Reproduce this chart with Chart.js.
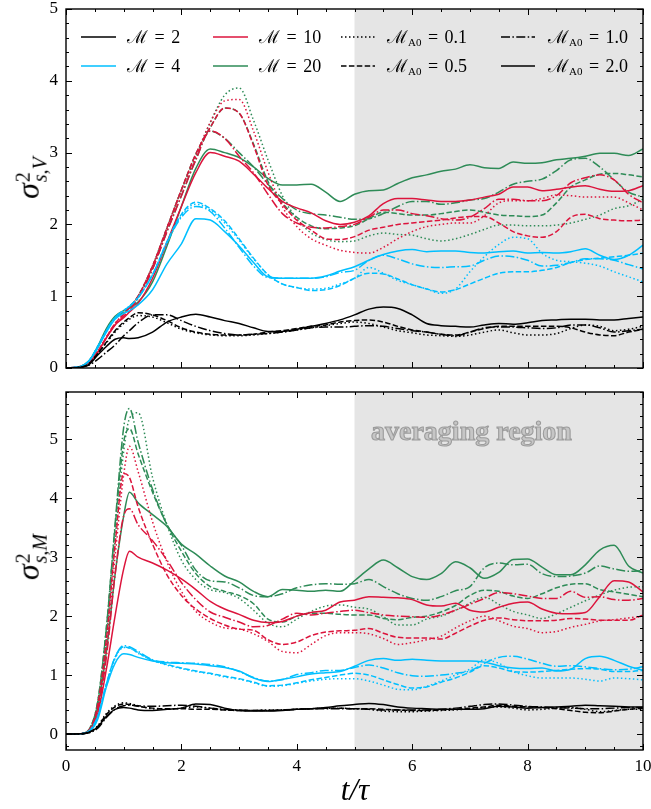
<!DOCTYPE html>
<html><head><meta charset="utf-8">
<script src="https://cdn.jsdelivr.net/npm/chart.js@4.4.1/dist/chart.umd.min.js"></script>
<style>
html,body{margin:0;padding:0;background:#fff;width:651px;height:809px;overflow:hidden;font-family:'Liberation Serif','DejaVu Serif',serif;}
.box{position:absolute;left:0;width:651px;}
#topBox{top:0;height:385px;}
#botBox{top:385px;height:424px;}
.ov{position:absolute;white-space:nowrap;color:#000;line-height:22px;font-size:18px;word-spacing:2px;}
.ov sub{font-size:11px;vertical-align:-3px;font-style:normal;}
.ytitle{position:absolute;white-space:nowrap;transform:translate(-50%,-50%) rotate(-90deg);font-size:32px;line-height:40px;}
.ytitle i{font-style:italic;}
.ss{display:inline-block;vertical-align:middle;line-height:17px;font-size:20px;margin-left:1px;}
.ss span{display:block;}
.xtitle{position:absolute;left:355px;top:790px;transform:translate(-50%,-50%);font-size:31px;font-style:italic;white-space:nowrap;}
.avg{position:absolute;left:371px;top:415px;font-size:28px;font-weight:bold;color:#c6c6c6;-webkit-text-stroke:1.1px #9c9c9c;white-space:nowrap;}
</style></head><body>
<div class="box" id="topBox"><canvas id="cTop"></canvas></div>
<div class="box" id="botBox"><canvas id="cBot"></canvas></div>

<svg style="position:absolute;left:0;top:0" width="651" height="90">
  <line x1="81" y1="37" x2="116" y2="37" stroke="#000" stroke-width="1.6"/>
  <line x1="81" y1="66" x2="116" y2="66" stroke="#00BFFF" stroke-width="1.6"/>
  <line x1="213" y1="37" x2="248" y2="37" stroke="#DC143C" stroke-width="1.6"/>
  <line x1="213" y1="66" x2="248" y2="66" stroke="#2E8B57" stroke-width="1.6"/>
  <line x1="341" y1="37" x2="375" y2="37" stroke="#000" stroke-width="1.6" stroke-dasharray="1.5 2.5"/>
  <line x1="341" y1="66" x2="375" y2="66" stroke="#000" stroke-width="1.6" stroke-dasharray="5.5 2.4"/>
  <line x1="501" y1="37" x2="535" y2="37" stroke="#000" stroke-width="1.6" stroke-dasharray="9 2.4 1.5 2.4"/>
  <line x1="501" y1="66" x2="535" y2="66" stroke="#000" stroke-width="1.6"/>
</svg>
<div class="ov" style="left:127px;top:26px">ℳ = 2</div>
<div class="ov" style="left:127px;top:55px">ℳ = 4</div>
<div class="ov" style="left:259px;top:26px">ℳ = 10</div>
<div class="ov" style="left:259px;top:55px">ℳ = 20</div>
<div class="ov" style="left:387px;top:26px">ℳ<sub>A0</sub> = 0.1</div>
<div class="ov" style="left:387px;top:55px">ℳ<sub>A0</sub> = 0.5</div>
<div class="ov" style="left:548px;top:26px">ℳ<sub>A0</sub> = 1.0</div>
<div class="ov" style="left:548px;top:55px">ℳ<sub>A0</sub> = 2.0</div>

<div class="ytitle" style="left:28px;top:178px"><i>σ</i><span class="ss"><span>2</span><span><i>s</i>,<i>V</i></span></span></div>
<div class="ytitle" style="left:28px;top:557px"><i>σ</i><span class="ss"><span>2</span><span><i>s</i>,<i>M</i></span></span></div>
<div class="xtitle">t/τ</div>
<div class="avg">averaging region</div>

<script>
// ---- data ----
const tGrid = [0,0.25,0.4,0.55,0.7,0.85,1.0,1.1,1.25,1.5,1.75,2.0,2.25,2.5,2.75,3.0,3.25,3.5,3.75,4.0,4.25,4.5,4.75,5.0,5.25,5.5,5.75,6.0,6.25,6.5,6.75,7.0,7.25,7.5,7.75,8.0,8.25,8.5,8.75,9.0,9.25,9.5,9.75,10];
const xTicks = [0,2,4,6,8,10];
const yTicksV = [0,1,2,3,4,5];
const yTicksM = [0,1,2,3,4,5];
const shadeRange = [5,10];

// top panel: sigma^2_{s,V}
const V_M2_A01 = [0,0.01,0.06,0.2,0.35,0.5,0.62,0.68,0.73,0.71,0.63,0.54,0.49,0.46,0.45,0.45,0.46,0.48,0.5,0.53,0.56,0.59,0.62,0.64,0.62,0.57,0.52,0.49,0.46,0.45,0.44,0.46,0.5,0.53,0.49,0.46,0.46,0.48,0.55,0.6,0.58,0.52,0.54,0.58];
const V_M2_A05 = [0,0.01,0.06,0.2,0.36,0.52,0.64,0.7,0.77,0.74,0.66,0.56,0.5,0.47,0.46,0.46,0.47,0.5,0.52,0.55,0.58,0.6,0.64,0.66,0.67,0.64,0.58,0.53,0.5,0.47,0.46,0.5,0.55,0.58,0.58,0.58,0.58,0.58,0.56,0.5,0.46,0.45,0.5,0.54];
const V_M2_A1  = [0,0.01,0.04,0.12,0.22,0.32,0.45,0.52,0.63,0.74,0.74,0.66,0.58,0.52,0.48,0.46,0.47,0.48,0.5,0.53,0.56,0.57,0.57,0.58,0.59,0.58,0.55,0.52,0.5,0.47,0.45,0.5,0.56,0.57,0.57,0.56,0.55,0.56,0.6,0.6,0.56,0.5,0.52,0.54];
const V_M2_A2  = [0,0.01,0.05,0.18,0.3,0.4,0.42,0.41,0.42,0.5,0.64,0.71,0.75,0.71,0.66,0.62,0.56,0.51,0.51,0.54,0.58,0.62,0.67,0.74,0.82,0.85,0.83,0.74,0.62,0.59,0.58,0.57,0.6,0.62,0.61,0.63,0.66,0.67,0.68,0.68,0.67,0.67,0.69,0.71];
const V_M4_A01 = [0,0.02,0.1,0.3,0.52,0.7,0.8,0.86,0.98,1.3,1.74,2.12,2.28,2.2,2.02,1.78,1.52,1.3,1.17,1.12,1.1,1.11,1.17,1.25,1.4,1.32,1.22,1.16,1.1,1.04,1.1,1.34,1.55,1.72,1.82,1.8,1.6,1.5,1.48,1.46,1.42,1.34,1.27,1.2];
const V_M4_A05 = [0,0.02,0.1,0.3,0.52,0.7,0.8,0.86,0.98,1.3,1.76,2.14,2.31,2.22,2.05,1.8,1.53,1.3,1.17,1.12,1.08,1.09,1.15,1.25,1.32,1.31,1.24,1.16,1.1,1.06,1.09,1.17,1.25,1.32,1.34,1.34,1.36,1.4,1.47,1.51,1.53,1.55,1.57,1.6];
const V_M4_A1  = [0,0.02,0.1,0.3,0.52,0.7,0.8,0.86,0.98,1.3,1.75,2.1,2.25,2.18,1.95,1.68,1.42,1.26,1.25,1.25,1.25,1.27,1.33,1.36,1.5,1.57,1.52,1.45,1.41,1.4,1.41,1.42,1.5,1.56,1.55,1.5,1.42,1.43,1.47,1.52,1.52,1.5,1.44,1.38];
const V_M4_A2  = [0,0.02,0.1,0.28,0.5,0.68,0.76,0.8,0.88,1.09,1.45,1.73,2.08,2.06,1.9,1.7,1.47,1.27,1.25,1.25,1.25,1.28,1.35,1.41,1.5,1.58,1.63,1.65,1.62,1.63,1.63,1.61,1.6,1.62,1.63,1.6,1.61,1.6,1.62,1.66,1.57,1.51,1.57,1.71];
const V_M10_A01 = [0,0.02,0.08,0.23,0.43,0.62,0.75,0.84,1.0,1.42,1.95,2.48,2.95,3.42,3.72,3.74,3.3,2.73,2.25,1.97,1.8,1.71,1.64,1.61,1.6,1.68,1.8,1.9,1.97,2.0,2.02,2.02,2.12,2.3,2.33,2.33,2.36,2.41,2.4,2.38,2.38,2.38,2.3,2.2];
const V_M10_A05 = [0,0.02,0.08,0.23,0.43,0.62,0.75,0.84,1.0,1.42,1.95,2.48,2.98,3.35,3.62,3.55,3.1,2.55,2.28,2.06,1.92,1.8,1.79,1.83,1.92,1.96,2.0,2.02,2.04,2.06,2.09,2.11,2.11,2.02,1.9,1.84,1.82,1.9,2.1,2.14,2.08,2.06,2.05,2.06];
const V_M10_A1  = [0,0.02,0.08,0.22,0.42,0.6,0.72,0.8,0.97,1.38,1.9,2.4,2.9,3.3,3.2,2.95,2.72,2.42,2.15,2.02,1.96,1.95,1.97,2.0,2.1,2.2,2.2,2.15,2.12,2.08,2.06,2.1,2.22,2.35,2.35,2.33,2.33,2.4,2.58,2.65,2.69,2.62,2.42,2.3];
const V_M10_A2  = [0,0.02,0.08,0.22,0.42,0.6,0.7,0.78,0.9,1.25,1.75,2.25,2.72,3.0,2.95,2.88,2.7,2.5,2.32,2.23,2.16,2.05,2.0,2.03,2.12,2.29,2.36,2.36,2.34,2.32,2.32,2.34,2.38,2.42,2.52,2.52,2.47,2.49,2.52,2.54,2.49,2.46,2.47,2.54];
const V_M20_A01 = [0,0.02,0.1,0.29,0.53,0.7,0.78,0.85,1.0,1.42,1.95,2.48,2.95,3.42,3.8,3.9,3.45,2.9,2.4,2.08,1.88,1.79,1.76,1.77,1.84,1.88,1.86,1.85,1.8,1.77,1.8,1.86,1.93,1.99,1.99,1.98,1.98,1.99,2.02,2.07,2.13,2.22,2.26,2.35];
const V_M20_A05 = [0,0.02,0.1,0.29,0.53,0.7,0.78,0.85,1.0,1.42,1.95,2.48,2.98,3.35,3.62,3.55,3.12,2.6,2.3,2.1,1.98,1.94,1.95,1.98,2.08,2.17,2.15,2.13,2.13,2.15,2.18,2.2,2.17,2.13,2.12,2.11,2.13,2.3,2.52,2.62,2.7,2.71,2.69,2.66];
const V_M20_A1  = [0,0.02,0.1,0.28,0.52,0.7,0.78,0.84,0.98,1.38,1.9,2.4,2.9,3.3,3.2,3.0,2.8,2.56,2.36,2.2,2.15,2.13,2.1,2.07,2.08,2.15,2.25,2.32,2.32,2.28,2.3,2.34,2.36,2.45,2.56,2.6,2.63,2.75,2.9,2.92,2.8,2.62,2.45,2.38];
const V_M20_A2  = [0,0.02,0.1,0.3,0.55,0.72,0.8,0.84,0.92,1.2,1.7,2.25,2.78,3.05,3.0,2.93,2.8,2.64,2.55,2.55,2.56,2.45,2.32,2.42,2.47,2.48,2.57,2.65,2.69,2.74,2.77,2.83,2.79,2.78,2.87,2.85,2.86,2.9,2.92,2.95,2.99,2.99,2.96,3.05];

// bottom panel: sigma^2_{s,M}
const M_M2_A01 = [0,0.005,0.03,0.14,0.35,0.48,0.53,0.52,0.48,0.43,0.42,0.44,0.46,0.44,0.41,0.4,0.4,0.41,0.41,0.42,0.43,0.44,0.44,0.43,0.42,0.39,0.38,0.38,0.39,0.4,0.41,0.43,0.45,0.46,0.44,0.41,0.42,0.44,0.45,0.42,0.38,0.4,0.42,0.42];
const M_M2_A05 = [0,0.005,0.03,0.13,0.33,0.46,0.51,0.5,0.47,0.44,0.43,0.43,0.42,0.42,0.41,0.4,0.4,0.4,0.41,0.42,0.43,0.44,0.44,0.43,0.43,0.42,0.41,0.4,0.4,0.41,0.42,0.44,0.46,0.49,0.47,0.46,0.45,0.43,0.4,0.37,0.36,0.39,0.42,0.44];
const M_M2_A1  = [0,0.005,0.02,0.1,0.28,0.42,0.48,0.49,0.48,0.47,0.48,0.49,0.47,0.44,0.42,0.41,0.4,0.4,0.41,0.42,0.43,0.43,0.43,0.43,0.42,0.41,0.41,0.41,0.41,0.42,0.44,0.47,0.5,0.51,0.49,0.47,0.46,0.45,0.44,0.43,0.43,0.44,0.45,0.45];
const M_M2_A2  = [0,0.005,0.03,0.12,0.3,0.42,0.45,0.44,0.41,0.4,0.42,0.44,0.51,0.5,0.44,0.4,0.39,0.39,0.4,0.42,0.43,0.45,0.48,0.5,0.52,0.5,0.46,0.44,0.43,0.42,0.42,0.42,0.43,0.47,0.46,0.44,0.45,0.46,0.47,0.49,0.48,0.47,0.46,0.46];
const M_M4_A01 = [0,0.005,0.05,0.29,0.82,1.28,1.47,1.46,1.37,1.25,1.17,1.11,1.06,1.02,0.97,0.93,0.87,0.81,0.82,0.86,0.9,0.93,0.94,0.94,0.9,0.83,0.76,0.75,0.81,0.9,1.0,1.1,1.26,1.2,1.06,0.99,0.95,0.95,0.95,0.93,0.9,0.95,0.94,0.92];
const M_M4_A05 = [0,0.005,0.05,0.3,0.85,1.3,1.48,1.46,1.38,1.25,1.18,1.12,1.07,1.03,0.98,0.94,0.88,0.82,0.83,0.87,0.92,0.96,1.0,1.03,1.0,0.92,0.84,0.78,0.8,0.88,0.95,1.05,1.16,1.12,1.06,1.05,1.06,1.08,1.1,1.11,1.1,1.06,1.06,1.08];
const M_M4_A1  = [0,0.005,0.05,0.3,0.85,1.3,1.5,1.48,1.4,1.26,1.22,1.21,1.2,1.18,1.14,1.06,0.96,0.9,0.92,1.01,1.04,1.08,1.08,1.13,1.17,1.12,1.04,0.99,0.98,1.0,1.03,1.07,1.2,1.3,1.32,1.27,1.2,1.15,1.16,1.14,1.11,1.09,1.1,1.14];
const M_M4_A2  = [0,0.005,0.04,0.25,0.8,1.2,1.36,1.35,1.3,1.24,1.21,1.2,1.19,1.16,1.13,1.07,0.95,0.89,0.93,0.97,1.02,1.04,1.06,1.15,1.25,1.28,1.25,1.27,1.25,1.24,1.24,1.24,1.22,1.16,1.12,1.11,1.12,1.07,1.1,1.28,1.32,1.25,1.15,1.08];
const M_M10_A01 = [0,0.005,0.06,0.45,1.5,3.0,4.4,4.88,4.45,3.6,2.92,2.42,2.08,1.9,1.8,1.78,1.7,1.57,1.4,1.38,1.52,1.67,1.72,1.72,1.7,1.62,1.52,1.55,1.6,1.66,1.8,1.92,2.0,1.92,1.83,1.79,1.72,1.74,1.81,1.86,1.92,1.94,1.97,2.0];
const M_M10_A05 = [0,0.005,0.07,0.5,1.6,3.2,4.42,4.35,3.85,3.22,2.7,2.35,2.12,1.96,1.85,1.78,1.76,1.6,1.52,1.56,1.67,1.73,1.75,1.76,1.79,1.71,1.64,1.63,1.63,1.61,1.71,1.83,1.93,1.97,1.94,1.92,1.92,1.93,1.96,1.95,1.93,1.93,1.93,2.02];
const M_M10_A1  = [0,0.005,0.06,0.4,1.3,2.7,3.7,3.82,3.55,3.28,2.95,2.57,2.28,2.07,1.98,1.9,1.82,1.84,1.95,2.05,2.02,2.05,2.08,2.1,2.06,2.02,2.0,1.99,1.98,2.02,2.1,2.2,2.3,2.4,2.38,2.34,2.3,2.3,2.42,2.32,2.33,2.28,2.27,2.3];
const M_M10_A2  = [0,0.005,0.05,0.35,1.1,2.0,2.8,3.1,3.0,2.9,2.78,2.63,2.45,2.25,2.12,2.03,1.93,1.89,1.91,2.0,2.06,2.1,2.24,2.27,2.33,2.32,2.31,2.28,2.19,2.17,2.22,2.1,2.07,2.15,2.22,2.24,2.12,2.05,2.04,2.06,2.33,2.6,2.58,2.41];
const M_M20_A01 = [0,0.005,0.07,0.5,1.65,3.3,4.8,5.35,5.45,4.35,3.55,2.95,2.62,2.45,2.4,2.3,2.1,1.88,1.82,1.95,2.08,2.17,2.19,2.15,2.12,1.99,1.85,1.85,1.95,2.0,2.1,2.22,2.32,2.2,2.08,2.02,1.96,2.04,2.15,2.26,2.36,2.44,2.49,2.5];
const M_M20_A05 = [0,0.005,0.08,0.55,1.8,3.5,4.95,5.18,4.75,4.1,3.55,3.1,2.72,2.5,2.42,2.35,2.21,1.95,1.9,2.0,2.05,2.05,2.03,2.02,2.02,1.96,1.94,1.98,2.0,2.07,2.18,2.35,2.44,2.42,2.34,2.3,2.38,2.48,2.54,2.55,2.45,2.41,2.37,2.33];
const M_M20_A1  = [0,0.005,0.08,0.55,1.8,3.55,5.2,5.52,4.95,4.15,3.55,3.2,2.78,2.6,2.58,2.48,2.35,2.33,2.38,2.48,2.53,2.55,2.54,2.55,2.62,2.5,2.38,2.3,2.27,2.33,2.43,2.5,2.82,2.9,2.87,2.88,2.72,2.67,2.68,2.73,2.85,2.8,2.76,2.77];
const M_M20_A2  = [0,0.005,0.06,0.45,1.4,2.7,3.7,4.1,3.92,3.72,3.52,3.22,3.05,2.85,2.68,2.58,2.42,2.33,2.45,2.44,2.42,2.44,2.42,2.6,2.8,2.95,2.82,2.67,2.62,2.72,2.92,2.82,2.64,2.74,2.96,2.97,2.83,2.7,2.7,2.87,3.12,3.2,2.85,2.73];

// ---- styles ----
const machColors = {M2:'#000000', M4:'#00BFFF', M10:'#DC143C', M20:'#2E8B57'};
const alfDash = {A01:[1.5,2.5], A05:[5.5,2.4], A1:[9,2.4,1.5,2.4], A2:[]};
const FONT = "'Liberation Serif','DejaVu Serif',serif";

function series(arr, color, dash){
  return {data: tGrid.map((t,i)=>({x:t, y:arr[i]})), borderColor:color, borderDash:dash,
    borderWidth:1.5, pointRadius:0, fill:false, cubicInterpolationMode:'monotone', borderCapStyle:'butt'};
}
const topSets = [
  series(V_M2_A01,machColors.M2,alfDash.A01), series(V_M2_A05,machColors.M2,alfDash.A05), series(V_M2_A1,machColors.M2,alfDash.A1), series(V_M2_A2,machColors.M2,alfDash.A2),
  series(V_M4_A01,machColors.M4,alfDash.A01), series(V_M4_A05,machColors.M4,alfDash.A05), series(V_M4_A1,machColors.M4,alfDash.A1), series(V_M4_A2,machColors.M4,alfDash.A2),
  series(V_M10_A01,machColors.M10,alfDash.A01), series(V_M10_A05,machColors.M10,alfDash.A05), series(V_M10_A1,machColors.M10,alfDash.A1), series(V_M10_A2,machColors.M10,alfDash.A2),
  series(V_M20_A01,machColors.M20,alfDash.A01), series(V_M20_A05,machColors.M20,alfDash.A05), series(V_M20_A1,machColors.M20,alfDash.A1), series(V_M20_A2,machColors.M20,alfDash.A2)
];
const botSets = [
  series(M_M2_A01,machColors.M2,alfDash.A01), series(M_M2_A05,machColors.M2,alfDash.A05), series(M_M2_A1,machColors.M2,alfDash.A1), series(M_M2_A2,machColors.M2,alfDash.A2),
  series(M_M4_A01,machColors.M4,alfDash.A01), series(M_M4_A05,machColors.M4,alfDash.A05), series(M_M4_A1,machColors.M4,alfDash.A1), series(M_M4_A2,machColors.M4,alfDash.A2),
  series(M_M10_A01,machColors.M10,alfDash.A01), series(M_M10_A05,machColors.M10,alfDash.A05), series(M_M10_A1,machColors.M10,alfDash.A1), series(M_M10_A2,machColors.M10,alfDash.A2),
  series(M_M20_A01,machColors.M20,alfDash.A01), series(M_M20_A05,machColors.M20,alfDash.A05), series(M_M20_A1,machColors.M20,alfDash.A1), series(M_M20_A2,machColors.M20,alfDash.A2)
];

const panelDeco = {
  id:'panelDeco',
  beforeDatasetsDraw(chart, args, o){
    const {ctx, chartArea:a, scales:{x}} = chart;
    const x0 = x.getPixelForValue(o.shade[0]), x1 = x.getPixelForValue(o.shade[1]);
    ctx.save(); ctx.fillStyle = '#e5e5e5';
    ctx.fillRect(x0, a.top, x1 - x0, a.bottom - a.top); ctx.restore();
  },
  afterDatasetsDraw(chart, args, o){
    const {ctx, chartArea:a, scales:{x,y}} = chart;
    ctx.save(); ctx.strokeStyle = '#000'; ctx.lineWidth = 1;
    ctx.beginPath();
    const isMajor = (v, m) => Math.abs(v/m - Math.round(v/m)) < 1e-6;
    for (let k = Math.ceil(x.min/o.xMinor - 1e-9); k*o.xMinor <= x.max + 1e-9; k++){
      const v = k*o.xMinor, px = Math.round(x.getPixelForValue(v)) + 0.5, L = isMajor(v, o.xMajor) ? 6 : 3;
      ctx.moveTo(px, a.bottom); ctx.lineTo(px, a.bottom - L);
      ctx.moveTo(px, a.top); ctx.lineTo(px, a.top + L);
    }
    for (let k = Math.ceil(y.min/o.yMinor - 1e-9); k*o.yMinor <= y.max + 1e-9; k++){
      const v = k*o.yMinor, py = Math.round(y.getPixelForValue(v)) + 0.5, L = isMajor(v, o.yMajor) ? 6 : 3;
      ctx.moveTo(a.left, py); ctx.lineTo(a.left + L, py);
      ctx.moveTo(a.right, py); ctx.lineTo(a.right - L, py);
    }
    ctx.stroke();
    ctx.lineWidth = 1.4;
    ctx.strokeRect(a.left, a.top, a.right - a.left, a.bottom - a.top);
    ctx.restore();
  }
};

function yScale(min, max, ticksArr){
  return {type:'linear', min, max,
    afterFit(s){ s.width = 66; s.paddingTop = 0; s.paddingBottom = 0; },
    afterBuildTicks(s){ s.ticks = ticksArr.map(v => ({value:v})); },
    grid:{display:false, drawTicks:false}, border:{display:false},
    ticks:{padding:8, color:'#000', font:{family:FONT, size:17}, callback:v => String(v)}};
}

new Chart(document.getElementById('cTop'), {
  type:'line',
  data:{datasets:topSets},
  options:{responsive:true, maintainAspectRatio:false, animation:false, devicePixelRatio:1,
    layout:{autoPadding:false, padding:{top:9, right:8, bottom:17, left:0}},
    scales:{
      x:{type:'linear', min:0, max:10, display:false},
      y:yScale(0, 5, yTicksV)
    },
    plugins:{legend:{display:false}, tooltip:{enabled:false},
      panelDeco:{shade:shadeRange, xMinor:0.5, xMajor:2, yMinor:0.2, yMajor:1}}
  },
  plugins:[panelDeco]
});

new Chart(document.getElementById('cBot'), {
  type:'line',
  data:{datasets:botSets},
  options:{responsive:true, maintainAspectRatio:false, animation:false, devicePixelRatio:1,
    layout:{autoPadding:false, padding:{top:7, right:8, bottom:0, left:0}},
    scales:{
      x:{type:'linear', min:0, max:10,
        afterFit(s){ s.height = 59; s.paddingLeft = 0; s.paddingRight = 0; },
        afterBuildTicks(s){ s.ticks = xTicks.map(v => ({value:v})); },
        grid:{display:false, drawTicks:false}, border:{display:false},
        ticks:{padding:6, color:'#000', maxRotation:0, font:{family:FONT, size:17}, callback:v => String(v)}},
      y:yScale(-0.27, 5.8, yTicksM)
    },
    plugins:{legend:{display:false}, tooltip:{enabled:false},
      panelDeco:{shade:shadeRange, xMinor:0.5, xMajor:2, yMinor:0.2, yMajor:1}}
  },
  plugins:[panelDeco]
});
</script>
</body></html>
